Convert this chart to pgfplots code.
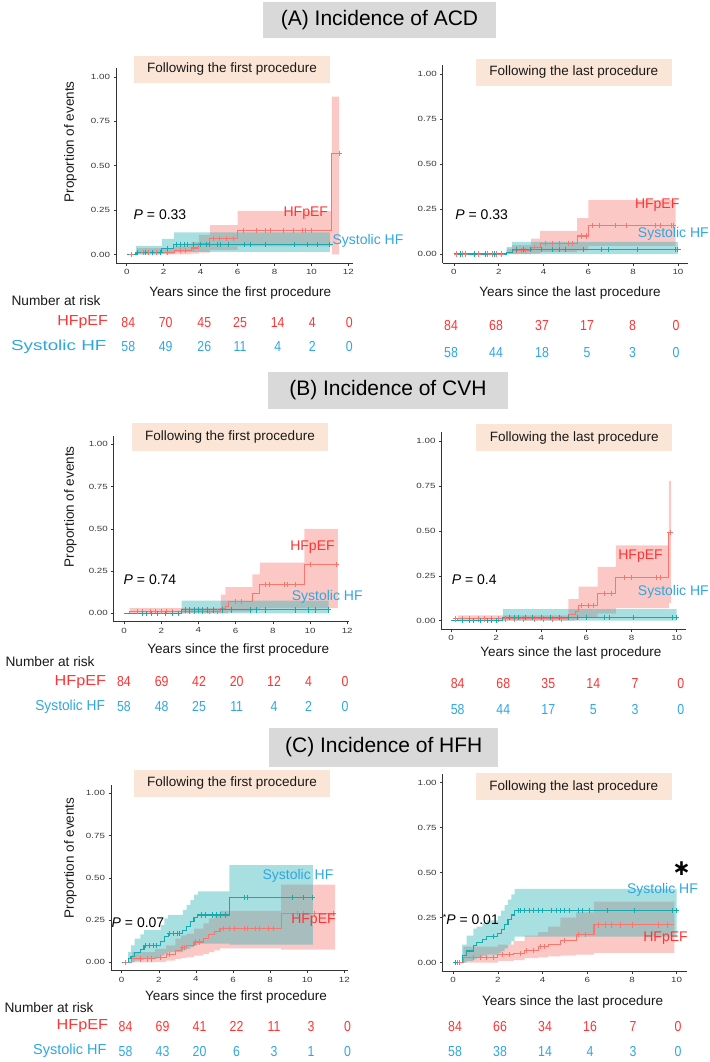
\documentclass[border=0pt]{standalone}
\usepackage{fontspec}
\setmainfont{Liberation Sans}
\newfontfamily\tickfont[FakeStretch=1.3]{Liberation Sans}
\newfontfamily\numfont[FakeStretch=0.85]{Liberation Sans}
\newfontfamily\djv{DejaVu Sans}
\usepackage{pgfplots}
\pgfplotsset{compat=1.18}
\usepackage{pgfplotstable}
\usepgfplotslibrary{fillbetween}

\definecolor{kmred}{HTML}{F8766D}
\definecolor{kmteal}{HTML}{16AAAF}
\definecolor{bandred}{HTML}{F8766D}
\definecolor{bandteal}{HTML}{26B0B4}
\definecolor{labred}{HTML}{FF3333}
\definecolor{labblue}{HTML}{2EA7E0}
\definecolor{titlegray}{HTML}{D9D9D9}
\definecolor{peach}{HTML}{FBE5D6}

\newcommand{\fs}[1]{\fontsize{#1}{#1}\selectfont}

% ---------- (A) ACD, first procedure ----------
\pgfplotstableread{
x y lo hi
0 0 0 0
0.55 0.012 0 0.035
2.6 0.024 0 0.05
3.5 0.036 0.005 0.07
3.9 0.06 0.01 0.11
4.5 0.09 0.025 0.165
6.0 0.135 0.045 0.245
11.1 0.57 0.0 0.89
11.5 0.57 0.0 0.89
}\aLr
\pgfplotstableread{
x y lo hi
0 0 0 0
0.5 0.012 0 0.048
1.9 0.035 0.005 0.088
2.55 0.058 0.015 0.125
11.0 0.058 0.015 0.125
}\aLt
\pgfplotstableread{
x y
0.27 0
0.9 0.012
1.2 0.012
1.6 0.012
2.2 0.012
2.9 0.024
3.2 0.024
3.6 0.036
4.7 0.09
5.0 0.09
5.4 0.09
5.8 0.09
6.3 0.135
7.0 0.135
7.5 0.135
7.8 0.135
8.5 0.135
9.0 0.135
9.5 0.135
9.7 0.135
10.0 0.135
11.5 0.57
}\aLrm
\pgfplotstableread{
x y
0.6 0.012
1.0 0.012
1.4 0.012
1.8 0.012
2.2 0.035
2.7 0.058
2.9 0.058
3.1 0.058
3.3 0.058
3.6 0.058
4.0 0.058
4.3 0.058
4.5 0.058
4.9 0.058
5.1 0.058
5.5 0.058
6.4 0.058
6.7 0.058
7.5 0.058
9.1 0.058
9.8 0.058
10.3 0.058
11.0 0.058
}\aLtm

% ---------- (A) ACD, last procedure ----------
\pgfplotstableread{
x y lo hi
0 0 0 0
2.35 0.01 0 0.03
2.6 0.02 0 0.05
3.45 0.035 0.002 0.085
3.85 0.06 0.01 0.128
5.5 0.1 0.02 0.2
6.0 0.16 0.045 0.30
9.9 0.16 0.045 0.30
}\aRr
\pgfplotstableread{
x y lo hi
0 0 0 0
2.35 0.01 0 0.04
2.6 0.025 0 0.068
10.0 0.025 0 0.068
}\aRt
\pgfplotstableread{
x y
0.1 0
0.4 0
0.5 0
0.9 0
1.1 0
1.5 0
1.7 0
1.9 0
2.1 0
2.8 0.02
3.0 0.02
3.2 0.02
3.6 0.035
4.1 0.06
4.4 0.06
4.7 0.06
5.1 0.06
5.3 0.06
5.7 0.1
5.9 0.1
6.2 0.16
6.5 0.16
7.2 0.16
7.7 0.16
9.0 0.16
9.2 0.16
9.7 0.16
9.8 0.16
}\aRrm
\pgfplotstableread{
x y
0.3 0
0.9 0
1.4 0
1.8 0
2.8 0.025
3.1 0.025
3.4 0.025
3.9 0.025
4.4 0.025
4.7 0.025
5.0 0.025
5.8 0.025
6.6 0.025
6.9 0.025
8.2 0.025
9.9 0.025
10.0 0.025
}\aRtm

% ---------- (B) CVH, first procedure ----------
\pgfplotstableread{
x y lo hi
0 0 0 0
0.3 0.01 0 0.03
5.2 0.03 0 0.11
5.45 0.04 0 0.155
5.6 0.07 0.01 0.155
6.9 0.115 0.02 0.23
7.3 0.17 0.03 0.30
9.7 0.29 0.03 0.50
11.5 0.29 0.03 0.50
}\bLr
\pgfplotstableread{
x y lo hi
0 0 0 0
3.1 0.02 0 0.075
11.0 0.02 0 0.075
}\bLt
\pgfplotstableread{
x y
0.7 0.01
1.0 0.01
1.4 0.01
1.7 0.01
2.0 0.01
2.3 0.01
2.6 0.01
3.5 0.01
3.8 0.01
4.2 0.01
4.6 0.01
5.0 0.01
6.0 0.07
6.3 0.07
7.6 0.17
7.8 0.17
8.6 0.17
8.8 0.17
9.2 0.17
10.0 0.29
11.4 0.29
}\bLrm
\pgfplotstableread{
x y
1.0 0
1.2 0
1.5 0
1.8 0
2.2 0
2.6 0
2.9 0
3.3 0.02
3.5 0.02
3.8 0.02
4.0 0.02
4.2 0.02
4.5 0.02
4.8 0.02
5.3 0.02
5.8 0.02
6.8 0.02
7.1 0.02
7.6 0.02
9.2 0.02
9.9 0.02
10.3 0.02
11.0 0.02
}\bLtm

% ---------- (B) CVH, last procedure ----------
\pgfplotstableread{
x y lo hi
0 0 0 0
0.3 0.01 0 0.03
5.2 0.035 0 0.12
5.5 0.05 0.005 0.12
5.65 0.085 0.02 0.19
6.5 0.15 0.04 0.30
7.3 0.24 0.07 0.42
9.65 0.49 0.10 0.78
9.75 0.49 0.10 0.78
}\bRr
\pgfplotstableread{
x y lo hi
0 0 0 0
2.3 0.02 0 0.065
10.0 0.02 0 0.065
}\bRt
\pgfplotstableread{
x y
0.2 0.01
0.5 0.01
0.8 0.01
1.2 0.01
1.5 0.01
1.8 0.01
2.1 0.01
2.4 0.01
2.8 0.01
3.2 0.01
3.7 0.01
4.1 0.01
4.5 0.01
4.9 0.01
5.8 0.085
6.1 0.085
6.3 0.085
6.8 0.15
7.1 0.15
7.7 0.24
8.0 0.24
9.1 0.24
9.3 0.24
9.7 0.49
}\bRrm
\pgfplotstableread{
x y
0.5 0
0.8 0
1.0 0
1.3 0
1.6 0
1.8 0
2.0 0
2.6 0.02
2.8 0.02
3.0 0.02
3.3 0.02
3.6 0.02
4.0 0.02
4.4 0.02
4.8 0.02
5.2 0.02
5.6 0.02
6.0 0.02
6.8 0.02
7.0 0.02
8.1 0.02
9.8 0.02
10.0 0.02
}\bRtm

% ---------- (C) HFH, first procedure ----------
\pgfplotstableread{
x y lo hi
0 0 0 0
0.55 0.02 0 0.06
1.8 0.03 0.002 0.08
2.4 0.045 0.01 0.10
2.9 0.07 0.02 0.14
3.2 0.09 0.025 0.16
3.5 0.10 0.03 0.17
3.9 0.12 0.04 0.20
4.4 0.14 0.05 0.23
4.7 0.165 0.06 0.26
5.0 0.18 0.07 0.28
5.3 0.20 0.082 0.305
8.6 0.29 0.075 0.46
11.5 0.29 0.075 0.46
}\cLr
\pgfplotstableread{
x y lo hi
0 0 0 0
0.35 0.02 0 0.06
0.5 0.035 0 0.10
0.7 0.06 0.01 0.14
1.0 0.075 0.015 0.165
1.2 0.10 0.025 0.19
2.1 0.125 0.04 0.22
2.3 0.155 0.05 0.26
2.5 0.17 0.06 0.28
3.3 0.19 0.07 0.31
3.5 0.21 0.08 0.34
3.7 0.24 0.09 0.37
3.9 0.265 0.10 0.40
4.1 0.28 0.11 0.42
5.8 0.385 0.105 0.575
10.3 0.385 0.105 0.575
}\cLt
\pgfplotstableread{
x y
0.2 0
1.0 0.02
1.4 0.02
1.6 0.02
2.1 0.03
2.6 0.045
3.3 0.09
3.4 0.09
4.0 0.12
4.2 0.12
5.5 0.2
5.8 0.2
6.1 0.2
6.6 0.2
6.8 0.2
7.2 0.2
7.4 0.2
7.9 0.2
8.2 0.2
9.5 0.29
9.8 0.29
10.4 0.29
11.4 0.29
}\cLrm
\pgfplotstableread{
x y
1.3 0.10
1.5 0.10
1.7 0.10
1.9 0.10
2.6 0.17
2.8 0.17
3.0 0.17
3.1 0.17
4.3 0.28
4.5 0.28
4.9 0.28
5.1 0.28
5.3 0.28
5.6 0.28
6.6 0.385
6.8 0.385
9.2 0.385
9.8 0.385
10.3 0.385
}\cLtm

% ---------- (C) HFH, last procedure ----------
\pgfplotstableread{
x y lo hi
0 0 0 0
0.45 0.03 0 0.09
2.0 0.045 0.01 0.10
2.7 0.05 0.015 0.12
3.2 0.07 0.025 0.15
3.8 0.09 0.03 0.17
4.25 0.10 0.035 0.20
4.8 0.125 0.04 0.25
5.5 0.155 0.045 0.28
6.3 0.21 0.055 0.34
9.9 0.21 0.055 0.34
}\cRr
\pgfplotstableread{
x y lo hi
0 0 0 0
0.4 0.04 0 0.10
0.6 0.065 0.01 0.15
0.9 0.095 0.02 0.19
1.05 0.11 0.03 0.20
1.3 0.13 0.04 0.22
1.5 0.145 0.045 0.235
2.0 0.16 0.055 0.26
2.15 0.185 0.065 0.29
2.3 0.21 0.08 0.32
2.45 0.24 0.10 0.35
2.6 0.265 0.12 0.38
2.75 0.29 0.145 0.41
10.0 0.29 0.145 0.41
}\cRt
\pgfplotstableread{
x y
0.2 0
0.3 0
0.9 0.03
1.2 0.03
1.5 0.03
1.8 0.03
2.2 0.045
2.5 0.045
3.0 0.05
3.3 0.07
3.6 0.07
3.9 0.09
4.1 0.09
5.0 0.125
5.6 0.155
5.9 0.155
6.5 0.21
6.8 0.21
7.1 0.21
7.5 0.21
8.0 0.21
9.2 0.21
9.6 0.21
}\cRrm
\pgfplotstableread{
x y
0.1 0
1.8 0.145
2.9 0.29
3.0 0.29
3.2 0.29
3.4 0.29
3.6 0.29
3.8 0.29
4.0 0.29
4.4 0.29
4.6 0.29
4.8 0.29
5.0 0.29
5.2 0.29
5.6 0.29
5.8 0.29
6.1 0.29
6.9 0.29
8.1 0.29
9.8 0.29
10.0 0.29
}\cRtm

\pgfplotsset{
  km/.style={
    scale only axis,
    axis x line*=bottom, axis y line*=left,
    axis line style={-, draw=black!80, line width=0.8pt},
    ymin=-0.05, ymax=1.05,
    ytick={0,0.25,0.5,0.75,1},
    yticklabels={0.00,0.25,0.50,0.75,1.00},
    tick align=outside, major tick length=2.5pt,
    tick style={draw=black!80, line width=0.6pt},
    ticklabel style={font=\tickfont\fs{7.5}, text=black!78},
    anchor=south west,
  },
  kmleft/.style={km, xtick={0,2,...,12}, xticklabels={0,2,4,6,8,10,12}},
  kmright/.style={km, xtick={0,2,...,10}, xticklabels={0,2,4,6,8,10}},
}

% bands, curves and censor marks of one panel
\newcommand{\kmcurves}[4]{%
  \addplot[draw=none, const plot, name path=rl] table[x=x, y=lo]{#1};
  \addplot[draw=none, const plot, name path=ru] table[x=x, y=hi]{#1};
  \addplot[fill=bandred, fill opacity=0.4, draw=none] fill between[of=rl and ru];
  \addplot[draw=none, const plot, name path=tl] table[x=x, y=lo]{#2};
  \addplot[draw=none, const plot, name path=tu] table[x=x, y=hi]{#2};
  \addplot[fill=bandteal, fill opacity=0.4, draw=none] fill between[of=tl and tu];
  \addplot[kmred, line width=1.1pt, const plot] table[x=x, y=y]{#1};
  \addplot[kmteal, line width=1.1pt, const plot] table[x=x, y=y]{#2};
  \addplot[kmred, only marks, mark=+, mark size=2.6pt, mark options={line width=0.9pt}] table[x=x, y=y]{#3};
  \addplot[kmteal, only marks, mark=+, mark size=2.6pt, mark options={line width=0.9pt}] table[x=x, y=y]{#4};
}

\begin{document}
\begin{tikzpicture}

\begin{axis}[kmleft, at={(116pt,-263.3pt)}, width=237pt, height=195.1pt, xmin=-0.58, xmax=12.25]
\kmcurves{\aLr}{\aLt}{\aLrm}{\aLtm}
\end{axis}
\begin{axis}[kmright, at={(442.7pt,-263pt)}, width=245.3pt, height=198pt, xmin=-0.5, xmax=10.45]
\kmcurves{\aRr}{\aRt}{\aRrm}{\aRtm}
\end{axis}
\begin{axis}[kmleft, at={(113.8pt,-621.75pt)}, width=235.3pt, height=185.9pt, xmin=-0.55, xmax=12.1]
\kmcurves{\bLr}{\bLt}{\bLrm}{\bLtm}
\end{axis}
\begin{axis}[kmright, at={(441.5pt,-629.7pt)}, width=244.7pt, height=197.3pt, xmin=-0.42, xmax=10.42]
\kmcurves{\bRr}{\bRt}{\bRrm}{\bRtm}
\end{axis}
\begin{axis}[kmleft, at={(111pt,-970.75pt)}, width=237pt, height=185.9pt, xmin=-0.577, xmax=12.2]
\kmcurves{\cLr}{\cLt}{\cLrm}{\cLtm}
\end{axis}
\begin{axis}[kmright, at={(442.7pt,-971.7pt)}, width=244pt, height=198pt, xmin=-0.47, xmax=10.45]
\kmcurves{\cRr}{\cRt}{\cRrm}{\cRtm}
\end{axis}

\begin{scope}[x=1pt, y=-1pt]
% section titles
\fill[titlegray] (263,2) rectangle (496,38);
\node[font=\fs{21}] at (379.5,20) {(A) Incidence of ACD};
\fill[titlegray] (268,371.7) rectangle (507.7,409.3);
\node[font=\fs{21}] at (387.9,390.5) {(B) Incidence of CVH};
\fill[titlegray] (269.3,728) rectangle (498.3,767);
\node[font=\fs{21}] at (383.8,747.5) {(C) Incidence of HFH};

% panel headers
\tikzset{hdr/.style={font=\fs{13.5}, text=black!90}}
\fill[peach] (134,56) rectangle (330,82.7);
\node[hdr] at (232,69.5) {Following the first procedure};
\fill[peach] (476,59.3) rectangle (671.7,85.7);
\node[hdr] at (573.8,72.5) {Following the last procedure};
\fill[peach] (131.7,423.3) rectangle (328.3,450.7);
\node[hdr] at (230,437) {Following the first procedure};
\fill[peach] (476,424.3) rectangle (672.3,451);
\node[hdr] at (574.2,437.7) {Following the last procedure};
\fill[peach] (134,770) rectangle (330,796.7);
\node[hdr] at (232,783.3) {Following the first procedure};
\fill[peach] (476,773.3) rectangle (671.7,800);
\node[hdr] at (573.8,786.7) {Following the last procedure};

% axis labels
\tikzset{lab/.style={font=\fs{13.5}, text=black!90}}
\node[lab, rotate=90] at (70.5,141.7) {Proportion of events};
\node[lab, rotate=90] at (70.5,506.7) {Proportion of events};
\node[lab, rotate=90] at (70.5,858) {Proportion of events};
\node[lab] at (240.3,292.7) {Years since the first procedure};
\node[lab] at (570,293.3) {Years since the last procedure};
\node[lab] at (238.3,650.5) {Years since the first procedure};
\node[lab] at (570.8,652.7) {Years since the last procedure};
\node[lab] at (236,996.7) {Years since the first procedure};
\node[lab] at (572.7,1001.7) {Years since the last procedure};

% p values
\tikzset{pv/.style={font=\fs{14}}}
\node[pv] at (160,214.3) {\textit{P} = 0.33};
\node[pv] at (481.7,214.3) {\textit{P} = 0.33};
\node[pv] at (150,580) {\textit{P} = 0.74};
\node[pv] at (474.2,580) {\textit{P} = 0.4};
\node[pv] at (138,922.7) {\textit{P} = 0.07};
\node[pv] at (470.8,919.3) {\raisebox{0.3em}{\fs{9}*}\textit{P} = 0.01};
\node[inner sep=0pt, font=\djv\bfseries\fs{22}] at (681.7,869) {∗};

% group labels in the plots
\tikzset{gr/.style={font=\fs{14}, text=labred}, gb/.style={font=\fs{14}, text=labblue}}
\node[gr] at (305.8,213.3) {HFpEF};
\node[gb, anchor=west] at (329,240.7) {Systolic HF};
\node[gr] at (657.2,205) {HFpEF};
\node[gb] at (673.3,234.3) {Systolic HF};
\node[gr] at (312.5,546.7) {HFpEF};
\node[gb] at (327.2,596.7) {Systolic HF};
\node[gr] at (640.5,556) {HFpEF};
\node[gb] at (673.3,592.3) {Systolic HF};
\node[gb] at (298,875.7) {Systolic HF};
\node[gr] at (313.5,920) {HFpEF};
\node[gb] at (662.5,889.5) {Systolic HF};
\node[gr] at (665.5,938.3) {HFpEF};

% numbers at risk
\tikzset{nar/.style={font=\fs{13.7}, text=black!90, anchor=west},
         rl/.style={font=\fs{14.5}, anchor=east},
         rn/.style={font=\numfont\fs{14.5}}}
\node[nar] at (8,300.7) {Number at risk};
\node[rl, text=labred, xscale=1.1] at (111.7,322.3) {HFpEF};
\node[rl, text=labblue, xscale=1.3] at (111,346.7) {Systolic HF};
\foreach \x/\n in {128.3/84,165.7/70,204.3/45,240/25,277.7/14,312.3/4,349.3/0}
  \node[rn, text=labred] at (\x,322.3) {\n};
\foreach \x/\n in {128.3/58,165.7/49,204.3/26,240/11,277.7/4,312.3/2,349.3/0}
  \node[rn, text=labblue] at (\x,346.7) {\n};
\foreach \x/\n in {451/84,496/68,542/37,587/17,632.5/8,676/0}
  \node[rn, text=labred] at (\x,326) {\n};
\foreach \x/\n in {451/58,496/44,542/18,587/5,632.5/3,676/0}
  \node[rn, text=labblue] at (\x,352.7) {\n};

\node[nar] at (2,661.7) {Number at risk};
\node[rl, text=labred, xscale=1.12] at (110,681.7) {HFpEF};
\node[rl, text=labblue, xscale=0.95] at (108.3,706.7) {Systolic HF};
\foreach \x/\n in {124/84,161.7/69,199/42,236.7/20,274/12,308.5/4,345/0}
  \node[rn, text=labred] at (\x,681.7) {\n};
\foreach \x/\n in {124/58,161.7/48,199/25,236.7/11,274/4,308.5/2,345/0}
  \node[rn, text=labblue] at (\x,706.7) {\n};
\foreach \x/\n in {457.7/84,503.3/68,548.3/35,593.3/14,635/7,680.7/0}
  \node[rn, text=labred] at (\x,684) {\n};
\foreach \x/\n in {457.7/58,503.3/44,548.3/17,593.3/5,635/3,680.7/0}
  \node[rn, text=labblue] at (\x,709.3) {\n};

\node[nar] at (1,1008) {Number at risk};
\node[rl, text=labred, xscale=1.12] at (112,1026) {HFpEF};
\node[rl, text=labblue, xscale=1.0] at (110,1051) {Systolic HF};
\foreach \x/\n in {125.5/84,162.5/69,199.5/41,236.5/22,274/11,311/3,347.5/0}
  \node[rn, text=labred] at (\x,1026) {\n};
\foreach \x/\n in {125.5/58,162.5/43,199.5/20,236.5/6,274/3,311/1,347.5/0}
  \node[rn, text=labblue] at (\x,1051) {\n};
\foreach \x/\n in {455/84,500/66,545/34,590/16,633/7,678/0}
  \node[rn, text=labred] at (\x,1026) {\n};
\foreach \x/\n in {455/58,500/38,545/14,590/4,633/3,678/0}
  \node[rn, text=labblue] at (\x,1051) {\n};

\pgfresetboundingbox
\path[use as bounding box] (0,0) rectangle (709,1062);
\end{scope}
\end{tikzpicture}
\end{document}
